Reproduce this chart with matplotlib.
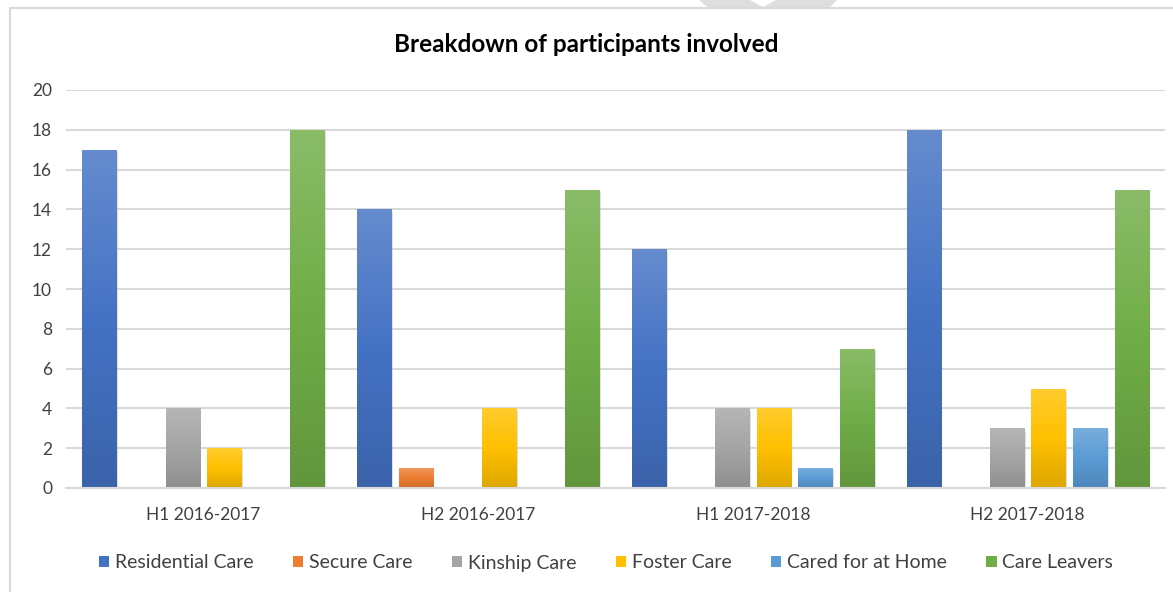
import numpy as np
import matplotlib
matplotlib.use('Agg')
import matplotlib.pyplot as plt
from matplotlib.colors import to_rgb
from matplotlib.patches import Rectangle, Polygon

periods = ['H1 2016-2017', 'H2 2016-2017', 'H1 2017-2018', 'H2 2017-2018']
series = ['Residential Care', 'Secure Care', 'Kinship Care', 'Foster Care',
          'Cared for at Home', 'Care Leavers']
residential = [17, 14, 12, 18]
secure = [0, 1, 0, 0]
kinship = [4, 0, 4, 3]
foster = [2, 4, 4, 5]
home = [0, 0, 1, 3]
leavers = [18, 15, 7, 15]
values = [residential, secure, kinship, foster, home, leavers]
colors = ['#4472C4', '#ED7D31', '#A5A5A5', '#FFC000', '#5B9BD5', '#70AD47']

plt.rcParams['font.family'] = ['Lato', 'DejaVu Sans']

W, H = 1173, 592
fig = plt.figure(figsize=(W/100, H/100), dpi=100)
ax = fig.add_axes([66/W, 1-488/H, 1099/W, 398/H])

# chart frame (left + top edge) and the grey shape above it
def fpt(px, py):
    return (px / W, 1 - py / H)

fig.patches.append(Rectangle(fpt(10, 600), 1200/W, 592/H, transform=fig.transFigure,
                             facecolor='none', edgecolor='#d9d9d9', linewidth=1.5))
fig.patches.append(Polygon([fpt(698, -1), fpt(748, -1), fpt(763, 7), fpt(778, -1),
                            fpt(838, -1), fpt(830, 7), fpt(707, 7)],
                           closed=True, transform=fig.transFigure,
                           facecolor='#dedede', edgecolor='none'))

x = np.arange(len(periods))
step = 0.1514
width = 0.124


def grad(c):
    r, g, b = to_rgb(c)
    base = np.array([r, g, b])
    t = np.linspace(0, 1, 64)[:, None]
    top = base + (1 - base) * 0.18
    bot = base * 0.87
    col = np.where(t < 0.5, top + (base - top) * (t / 0.5),
                   base + (bot - base) * ((t - 0.5) / 0.5))
    return col[:, None, :]


for i, (vals, c, name) in enumerate(zip(values, colors, series)):
    xs = x + (i - 2.5) * step
    bars = ax.bar(xs, vals, width=width, color=c, label=name, zorder=2)
    for b, v in zip(bars, vals):
        if v <= 0:
            continue
        x0 = b.get_x()
        # soft shadow
        ax.add_patch(Rectangle((x0 + 0.006, -0.12), width, v, facecolor='#bbbbbb',
                               edgecolor='none', alpha=0.45, zorder=1.5))
        im = ax.imshow(grad(c), extent=[x0, x0 + width, 0, v], aspect='auto',
                       zorder=2.5, interpolation='bilinear')
        im.set_clip_path(b)

ax.set_xlim(-0.5, 3.5)
ax.set_ylim(0, 20)
ax.set_yticks(range(0, 21, 2))
ax.set_xticks(x)
ax.set_xticklabels(periods)
ax.yaxis.grid(True, color='#d9d9d9', linewidth=1.5, zorder=0)
ax.set_axisbelow(True)
for s in ['top', 'right', 'left']:
    ax.spines[s].set_visible(False)
ax.spines['bottom'].set_color('#d9d9d9')
ax.spines['bottom'].set_linewidth(1.5)
ax.tick_params(axis='both', length=0, labelsize=12.5, colors='#404040', pad=10)
ax.tick_params(axis='x', pad=14)

fig.text(0.5, 1-45/H, 'Breakdown of participants involved', ha='center',
         va='center', fontsize=17.5, fontweight='bold', color='black')

fig.legend(loc='center', bbox_to_anchor=(606/W, 1-563/H), ncol=6, frameon=False,
           fontsize=14, handlelength=0.55, handleheight=0.55, handletextpad=0.3,
           columnspacing=2.0, labelcolor='#404040')

fig.savefig('out.png', dpi=100)
